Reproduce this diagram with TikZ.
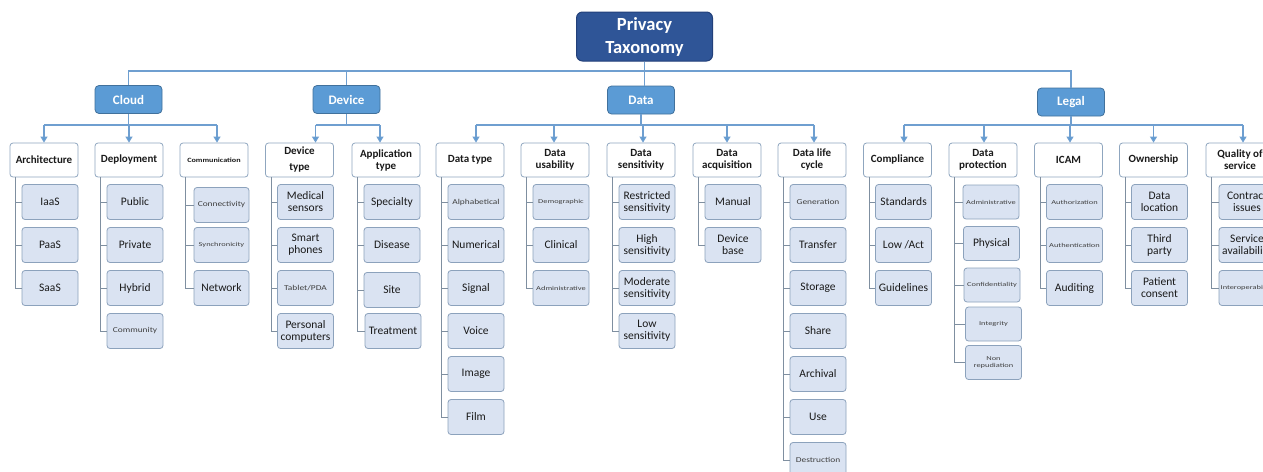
\documentclass[tikz,border=0pt]{standalone}
\usepackage{fontspec}
\setmainfont{Carlito}
\newfontfamily\widefont[FakeStretch=1.25]{Carlito}
\newfontfamily\widerfont[FakeStretch=1.4]{Carlito}
\usetikzlibrary{arrows.meta,calc}

\definecolor{rootfill}{HTML}{2F5597}
\definecolor{rootedge}{HTML}{22407A}
\definecolor{catfill}{HTML}{5B9BD5}
\definecolor{catedge}{HTML}{41719C}
\definecolor{subedge}{HTML}{8FA6BF}
\definecolor{leaffill}{HTML}{DAE3F2}
\definecolor{leafedge}{HTML}{8CA2BC}
\definecolor{busline}{HTML}{6F9FD0}
\definecolor{spineline}{HTML}{7F8FA0}
\definecolor{txt}{HTML}{1A1A1A}
\definecolor{txtgrey}{HTML}{404040}

\tikzset{
  rootbox/.style={draw=rootedge, fill=rootfill, rounded corners=6pt, line width=1pt,
    minimum width=136pt, minimum height=49pt, inner sep=1pt, align=center,
    text=white, font=\fontsize{18.5}{23}\selectfont\bfseries},
  catbox/.style={draw=catedge, fill=catfill, rounded corners=4pt, line width=0.8pt,
    minimum width=67pt, minimum height=28pt, inner sep=1pt,
    text=white, font=\fontsize{13}{15}\selectfont\bfseries},
  subbox/.style={draw=subedge, fill=white, rounded corners=3pt, line width=0.8pt,
    minimum width=68pt, minimum height=34pt, inner sep=1pt, align=center,
    text=txt, font=\fontsize{11}{12}\selectfont\bfseries},
  leafbox/.style={draw=leafedge, fill=leaffill, rounded corners=3pt, line width=0.8pt,
    minimum width=56pt, minimum height=35pt, inner sep=1pt, align=center,
    text=txt, font=\fontsize{11.5}{12}\selectfont},
  tinyA/.style={font=\widefont\fontsize{7.5}{9}\selectfont, text=txtgrey},
  tinyB/.style={font=\widerfont\fontsize{6}{7.5}\selectfont, text=txtgrey},
  bus/.style={draw=busline, line width=1.1pt},
  arr/.style={bus, -{Triangle[width=7pt,length=6pt,fill=catfill]}},
  spine/.style={draw=spineline, line width=0.9pt},
}

\begin{document}
\begin{tikzpicture}[x=1pt, y=-1pt]
\useasboundingbox (0,0) rectangle (1263,471);
\fill[white] (0,0) rectangle (1263,471);
\clip (0,0) rectangle (1263,471);

% ---- root and categories
\node[rootbox] (root) at (644.5,36.5) {Privacy\\Taxonomy};
\node[catbox] (cloud)  at (128.5,99.5) {Cloud};
\node[catbox] (device) at (346.5,99.5) {Device};
\node[catbox] (data)   at (641,100) {Data};
\node[catbox] (legal)  at (1071,102) {Legal};

% ---- second level
\node[subbox] (arch) at (44,160) {Architecture};
\node[subbox] (dep)  at (129,160) {Deployment};
\node[subbox, font=\widefont\fontsize{6.5}{8}\selectfont\bfseries] (com) at (214,160) {Communication};
\node[subbox] (devt) at (299.5,160) {Device\\[4pt]type};
\node[subbox] (appt) at (386,160) {Application\\type};
\node[subbox] (dtype) at (470,160) {Data type};
\node[subbox] (dus)  at (555,160) {Data\\usability};
\node[subbox] (dsen) at (641,160) {Data\\sensitivity};
\node[subbox] (dacq) at (727,160) {Data\\acquisition};
\node[subbox] (dlc)  at (812,160) {Data life\\cycle};
\node[subbox] (comp) at (897.5,160) {Compliance};
\node[subbox] (dpro) at (983,160) {Data\\protection};
\node[subbox] (icam) at (1068.5,160) {ICAM};
\node[subbox] (own)  at (1153.5,160) {Ownership};
\node[subbox] (qos)  at (1240,160) {Quality of\\service};

% ---- leaves: Cloud
\node[leafbox] (arch1) at (50,202) {IaaS};
\node[leafbox] (arch2) at (50,245) {PaaS};
\node[leafbox] (arch3) at (50,288) {SaaS};
\node[leafbox] (dep1) at (135,202) {Public};
\node[leafbox] (dep2) at (135,245) {Private};
\node[leafbox] (dep3) at (135,288) {Hybrid};
\node[leafbox, tinyA] (dep4) at (135,331) {Community};
\node[leafbox, minimum width=55pt, tinyA] (com1) at (221.5,205) {Connectivity};
\node[leafbox, minimum width=55pt, tinyB] (com2) at (221.5,245) {Synchronicity};
\node[leafbox, minimum width=55pt] (com3) at (221.5,288) {Network};

% ---- leaves: Device
\node[leafbox] (devt1) at (305.5,202) {Medical\\sensors};
\node[leafbox] (devt2) at (305.5,245) {Smart\\phones};
\node[leafbox, tinyA] (devt3) at (305.5,288) {Tablet/PDA};
\node[leafbox] (devt4) at (305.5,331) {Personal\\computers};
\node[leafbox] (appt1) at (392,202) {Specialty};
\node[leafbox] (appt2) at (392,245) {Disease};
\node[leafbox] (appt3) at (392,290) {Site};
\node[leafbox] (appt4) at (393,331) {Treatment};

% ---- leaves: Data
\node[leafbox, tinyA] (dtype1) at (476,202) {Alphabetical};
\node[leafbox] (dtype2) at (476,245) {Numerical};
\node[leafbox] (dtype3) at (476,288) {Signal};
\node[leafbox] (dtype4) at (476,331) {Voice};
\node[leafbox] (dtype5) at (476,374) {Image};
\node[leafbox] (dtype6) at (476,417) {Film};
\node[leafbox, tinyB] (dus1) at (561,202) {Demographic};
\node[leafbox] (dus2) at (561,245) {Clinical};
\node[leafbox, tinyB] (dus3) at (561,288) {Administrative};
\node[leafbox] (dsen1) at (647,202) {Restricted\\sensitivity};
\node[leafbox] (dsen2) at (647,245) {High\\sensitivity};
\node[leafbox] (dsen3) at (647,288) {Moderate\\sensitivity};
\node[leafbox] (dsen4) at (647,331) {Low\\sensitivity};
\node[leafbox] (dacq1) at (733,202) {Manual};
\node[leafbox] (dacq2) at (733,245) {Device\\base};
\node[leafbox, tinyA] (dlc1) at (818,202) {Generation};
\node[leafbox] (dlc2) at (818,245) {Transfer};
\node[leafbox] (dlc3) at (818,288) {Storage};
\node[leafbox] (dlc4) at (818,331) {Share};
\node[leafbox] (dlc5) at (818,374) {Archival};
\node[leafbox] (dlc6) at (818,417) {Use};
\node[leafbox, tinyA] (dlc7) at (818,460) {Destruction};

% ---- leaves: Legal
\node[leafbox] (comp1) at (903.5,202) {Standards};
\node[leafbox] (comp2) at (903.5,245) {Low /Act};
\node[leafbox] (comp3) at (903.5,288) {Guidelines};
\node[leafbox, minimum height=34pt, tinyB] (dpro1) at (991,202) {Administrative};
\node[leafbox, minimum height=34pt] (dpro2) at (991.5,243.5) {Physical};
\node[leafbox, minimum height=34pt, tinyB] (dpro3) at (992,285) {Confidentiality};
\node[leafbox, minimum height=34pt, tinyB] (dpro4) at (993.5,324) {Integrity};
\node[leafbox, minimum height=34pt, tinyB] (dpro5) at (993.5,362.5) {Non\\repudiation};
\node[leafbox, tinyB] (icam1) at (1074.5,202) {Authorization};
\node[leafbox, tinyB] (icam2) at (1074.5,245) {Authentication};
\node[leafbox] (icam3) at (1074.5,288) {Auditing};
\node[leafbox] (own1) at (1159.5,202) {Data\\location};
\node[leafbox] (own2) at (1159.5,245) {Third\\party};
\node[leafbox] (own3) at (1159.5,288) {Patient\\consent};
\node[leafbox] (qos1) at (1247,202) {Contract\\issues};
\node[leafbox] (qos2) at (1247,245) {Service\\availability};
\node[leafbox, tinyB] (qos3) at (1247,288) {Interoperability};

% ---- top level connectors
\coordinate (topbus) at (0,71);
\draw[bus] (root.south) -- (root.south |- data.north);
\draw[bus] (cloud.north) -- (cloud.north |- topbus) -- (legal.north |- topbus) -- (legal.north);
\draw[bus] (device.north) -- (device.north |- topbus);

% ---- category to sub-category connectors (arrow entry points)
\coordinate (catbus) at (0,125);
\foreach \c/\s in {arch/0, dep/0, com/3, devt/16, appt/-6,
                   dtype/6, dus/-1, dsen/2, dacq/0, dlc/2,
                   comp/6.5, dpro/1, icam/1.5, own/0, qos/3} {
  \coordinate (\c-in) at ([xshift=\s pt]\c.north);
  \draw[arr] (\c-in |- catbus) -- (\c-in);
}
\foreach \p/\a/\b in {cloud/arch/com, device/devt/appt, data/dtype/dlc, legal/comp/qos} {
  \draw[bus] (\p.south) -- (\p.south |- catbus);
  \draw[bus] (\a-in |- catbus) -- (\b-in |- catbus);
}

% ---- spines down the left side of each sub-category
\foreach \p/\last in {arch/arch3, dep/dep4, com/com3, devt/devt4, appt/appt4,
                      dtype/dtype6, dus/dus3, dsen/dsen4, dacq/dacq2, dlc/dlc7,
                      comp/comp3, dpro/dpro5, icam/icam3, own/own3, qos/qos3} {
  \coordinate (\p-sp) at ([xshift=6pt]\p.south west);
  \draw[spine] (\p-sp) |- (\last.west);
}
\foreach \p/\k in {arch/arch1, arch/arch2, dep/dep1, dep/dep2, dep/dep3,
                   com/com1, com/com2, devt/devt1, devt/devt2, devt/devt3,
                   appt/appt1, appt/appt2, appt/appt3,
                   dtype/dtype1, dtype/dtype2, dtype/dtype3, dtype/dtype4, dtype/dtype5,
                   dus/dus1, dus/dus2, dsen/dsen1, dsen/dsen2, dsen/dsen3, dacq/dacq1,
                   dlc/dlc1, dlc/dlc2, dlc/dlc3, dlc/dlc4, dlc/dlc5, dlc/dlc6,
                   comp/comp1, comp/comp2, dpro/dpro1, dpro/dpro2, dpro/dpro3, dpro/dpro4,
                   icam/icam1, icam/icam2, own/own1, own/own2, qos/qos1, qos/qos2} {
  \draw[spine] (\p-sp |- \k.west) -- (\k.west);
}
\end{tikzpicture}
\end{document}
